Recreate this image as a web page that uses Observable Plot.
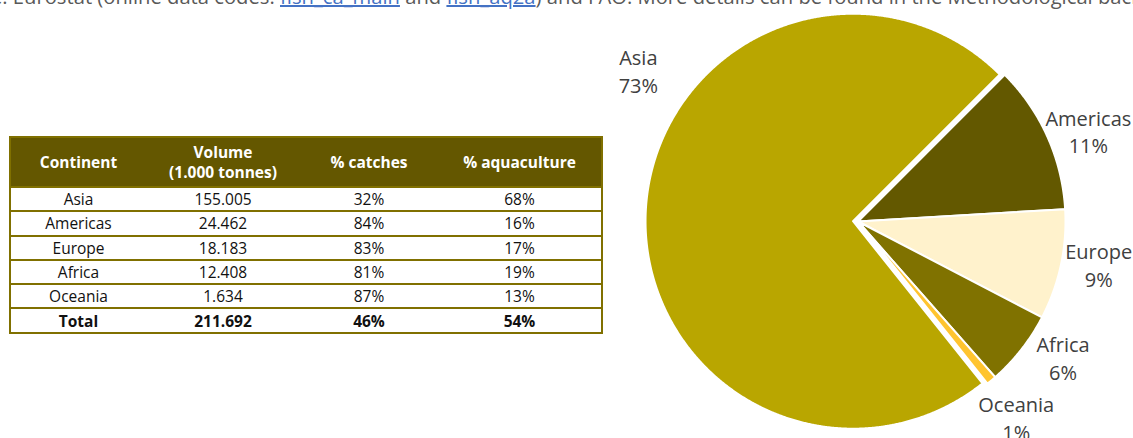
<!DOCTYPE html>
<html>
<head>
<meta charset="utf-8">
<script src="https://cdn.jsdelivr.net/npm/d3@7"></script>
<script src="https://cdn.jsdelivr.net/npm/@observablehq/plot@0.6"></script>
<style>
  html, body { margin: 0; padding: 0; background: #fff; }
  body { width: 1133px; height: 438px; overflow: hidden; position: relative; font-family: "Open Sans", sans-serif; }
  #src { position: absolute; left: 0; top: -13px; font-size: 19px; line-height: 1; color: #595959; white-space: nowrap; }
  #src a { color: #4472C4; text-decoration: underline; text-decoration-thickness: 2px; }
  #tbl { position: absolute; left: 9px; top: 136px; border-collapse: separate; border-spacing: 0;
         border: 2px solid #807000; table-layout: fixed; width: 594px; }
  #tbl th { background: #645700; color: #fff; font-weight: 700; font-size: 15.5px; height: 48px;
            padding: 0; line-height: 20px; text-align: center; }
  #tbl td { border-top: 2px solid #807000; height: 22.3px; padding: 0; font-size: 15.5px;
            text-align: center; color: #111; line-height: 22px; }
  #tbl tr.total td { font-weight: 700; }
  #pie { position: absolute; left: 600px; top: 0; }
</style>
</head>
<body>
<div id="src">Source: Eurostat (online data codes: <a id="l1">fish_ca_main</a> and <a id="l2">fish_aq2a</a>) and FAO. More details can be found in the Methodological background section.</div>
<table id="tbl">
  <colgroup><col style="width:135px"><col style="width:154px"><col style="width:138px"><col style="width:163px"></colgroup>
  <thead><tr id="head"></tr></thead>
  <tbody id="body"></tbody>
</table>
<div id="pie"></div>
<script>
// ---- data ----
const headers = ["Continent", "Volume<br>(1.000 tonnes)", "% catches", "% aquaculture"];
const continents = ["Asia", "Americas", "Europe", "Africa", "Oceania"];
const volume = [155005, 24462, 18183, 12408, 1634];
const pctCatches = [32, 84, 83, 81, 87];
const pctAquaculture = [68, 16, 17, 19, 13];
const totalLabel = "Total";
const totalVolume = 211692;
const totalCatches = 46;
const totalAquaculture = 54;
const pieShare = [73, 11, 9, 6, 1];           // % labels as printed on the pie
const pieOrder = ["Americas", "Europe", "Africa", "Oceania", "Asia"];

// ---- styles ----
const sliceColors = ["#B9A600", "#635800", "#FFF2CC", "#807200", "#FFC42F"];
const startAngle = 45;           // degrees clockwise from 12 o'clock
const explode = {Asia: 0.024};   // fraction of radius
const labelNudge = {Asia: [31, 1.28], Americas: [3.1, 1.19], Europe: [-1.5, 1.18], Africa: [-4.2, 1.19], Oceania: [1.3, 1.22]};

// ---- table ----
const fmt = d3.formatLocale({decimal: ",", thousands: ".", grouping: [3], currency: ["", ""]}).format(",");
document.getElementById("head").innerHTML = headers.map(h => `<th>${h}</th>`).join("");
const rows = continents.map((c, i) => [c, fmt(volume[i]), pctCatches[i] + "%", pctAquaculture[i] + "%"]);
document.getElementById("body").innerHTML =
  rows.map(r => `<tr>${r.map(v => `<td>${v}</td>`).join("")}</tr>`).join("") +
  `<tr class="total">${[totalLabel, fmt(totalVolume), totalCatches + "%", totalAquaculture + "%"].map(v => `<td>${v}</td>`).join("")}</tr>`;

// ---- source line fitting ----
(function () {
  const src = document.getElementById("src");
  const l1 = document.getElementById("l1");
  let w = l1.getBoundingClientRect().width;
  const fs = 19 * 120 / w;
  src.style.fontSize = fs + "px";
  src.style.top = (4 - 0.888 * fs) + "px";
  const r = l1.getBoundingClientRect();
  src.style.left = (280 - r.left) + "px";
})();

// ---- pie ----
const W = 533, H = 438, R = 207.5, CX = 257.5, CY = 221;
const sum = d3.sum(volume);
const rad = d => d * Math.PI / 180;
const pt = (cx, cy, a, r) => [cx + r * Math.sin(rad(a)), cy - r * Math.cos(rad(a))];
let a = startAngle;
const slices = pieOrder.map(name => {
  const i = continents.indexOf(name);
  const span = volume[i] / sum * 360;
  const a0 = a, a1 = a + span; a = a1;
  const mid = (a0 + a1) / 2;
  const e = explode[name] || 0;
  const [cx, cy] = pt(0, 0, mid, e);
  const ring = [[cx, cy]];
  const n = Math.max(2, Math.ceil(span / 0.25));
  for (let k = 0; k <= n; k++) ring.push(pt(cx, cy, a0 + span * k / n, 1));
  ring.push([cx, cy]);
  const [nd, lr] = labelNudge[name];
  const [lx, ly] = pt(0, 0, mid + nd, lr);
  return {name, share: pieShare[i], lx, ly,
    feature: {type: "Feature", properties: {name}, geometry: {type: "Polygon", coordinates: [ring]}}};
});
// domain: the whole drawing area in radius units so the fit is exact
const x0 = -CX / R, x1 = (W - CX) / R, y0 = -CY / R, y1 = (H - CY) / R;
const domain = {type: "Polygon", coordinates: [[[x0, y0], [x1, y0], [x1, y1], [x0, y1], [x0, y0]]]};

const chart = Plot.plot({
  width: W, height: H, margin: 0,
  style: {background: "transparent", fontFamily: "Open Sans, sans-serif"},
  projection: {type: "identity", domain, inset: 0},
  color: {domain: continents, range: sliceColors},
  marks: [
    Plot.geo(slices.map(s => s.feature), {fill: d => d.properties.name, stroke: "white", strokeWidth: 2}),
    Plot.text(slices, {x: "lx", y: "ly", text: d => `${d.name}\n${d.share}%`, fontSize: 20, lineHeight: 1.37,
      fill: "#404040", textAnchor: "middle", lineAnchor: "middle", dy: -2})
  ]
});
document.getElementById("pie").appendChild(chart);
</script>
</body>
</html>
